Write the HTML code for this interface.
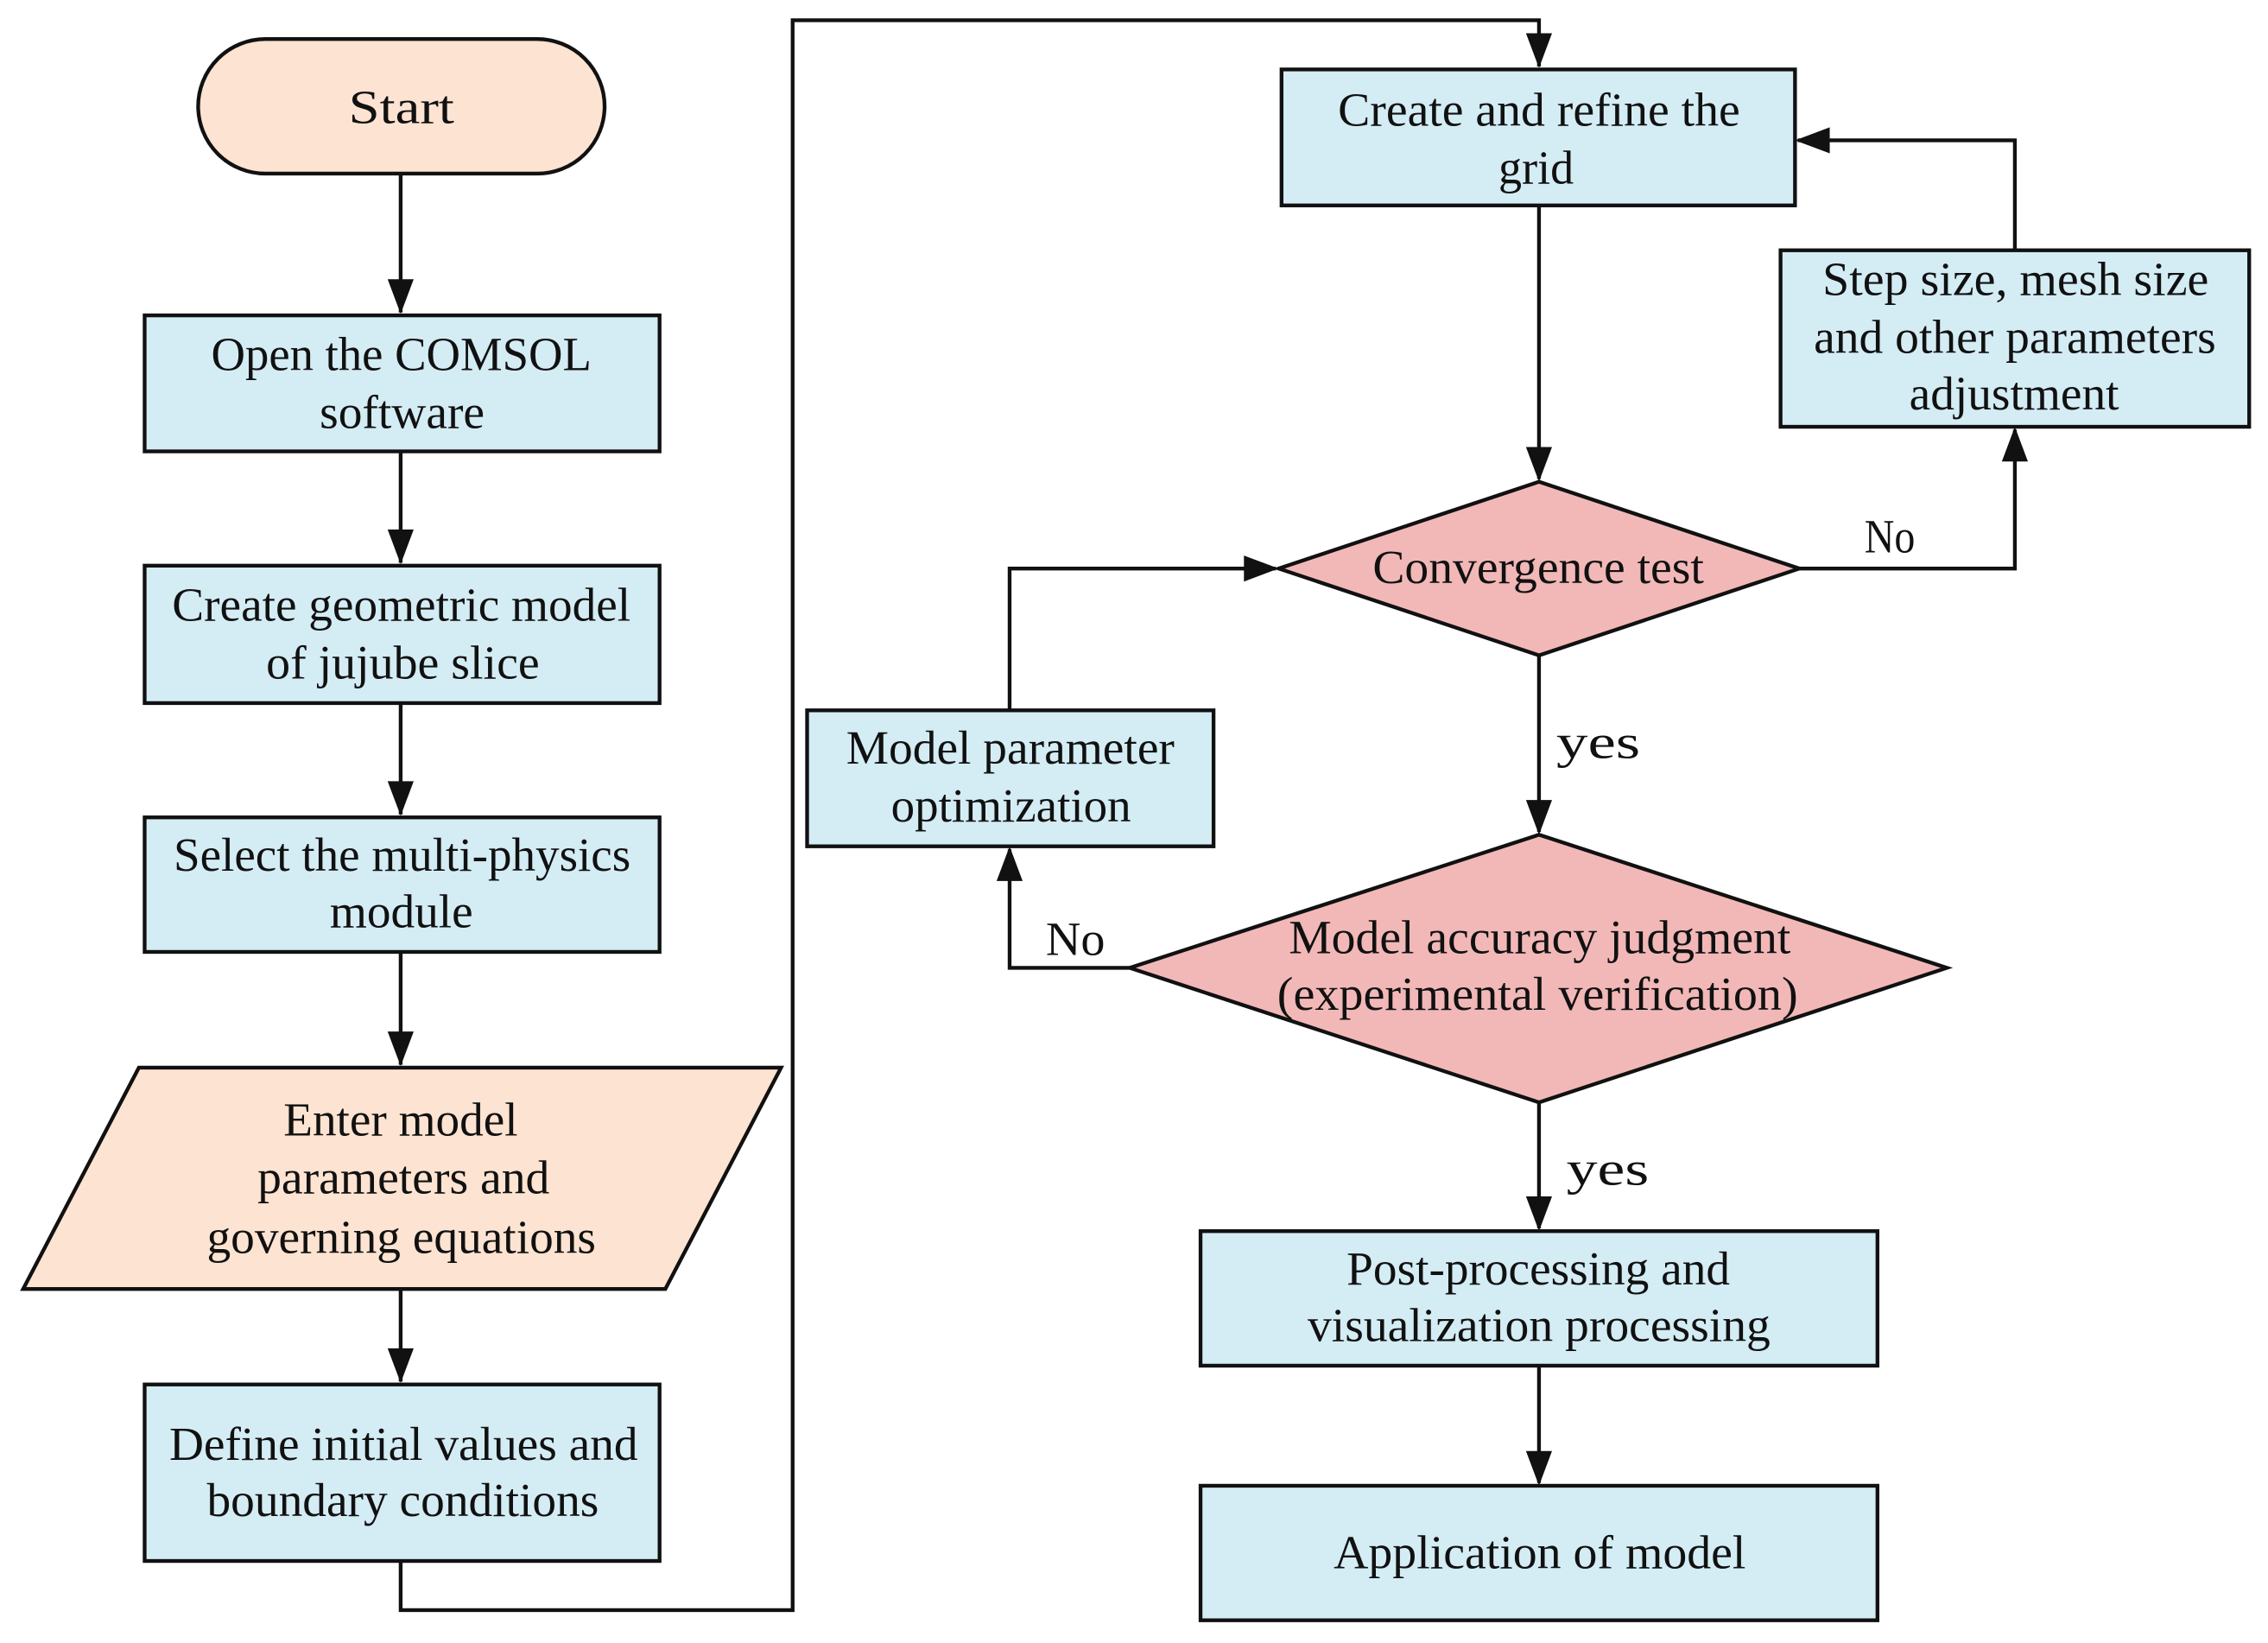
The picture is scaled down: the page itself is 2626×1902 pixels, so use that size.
<!DOCTYPE html>
<html><head><meta charset="utf-8"><style>
html,body{margin:0;padding:0;background:#fff;}
svg{display:block;}
text{font-family:"Liberation Serif",serif;font-size:33px;fill:#111;}
</style></head><body>
<svg width="2626" height="1902" viewBox="0 0 1568 1135.7" preserveAspectRatio="none" xmlns="http://www.w3.org/2000/svg">
<g stroke="#111" stroke-width="2.6" fill="none">
<line x1="277" y1="120" x2="277" y2="216"/>
<line x1="277" y1="312" x2="277" y2="389"/>
<line x1="277" y1="486" x2="277" y2="563"/>
<line x1="277" y1="658" x2="277" y2="736"/>
<line x1="277" y1="891" x2="277" y2="955"/>
<polyline points="277,1079 277,1113 548,1113 548,14 1064,14 1064,46"/>
<line x1="1064" y1="142" x2="1064" y2="331"/>
<polyline points="1244,393 1393,393 1393,297"/>
<polyline points="1393,173 1393,97 1243,97"/>
<polyline points="698,491 698,393 882,393"/>
<polyline points="781,669 698,669 698,587"/>
<line x1="1064" y1="453" x2="1064" y2="575"/>
<line x1="1064" y1="762" x2="1064" y2="849"/>
<line x1="1064" y1="944" x2="1064" y2="1025"/>
</g>
<g fill="#111">
<path d="M268,193 L286,193 L277,217 Z"/>
<path d="M268,366 L286,366 L277,390 Z"/>
<path d="M268,540 L286,540 L277,564 Z"/>
<path d="M268,713 L286,713 L277,737 Z"/>
<path d="M268,932 L286,932 L277,956 Z"/>
<path d="M1055,23 L1073,23 L1064,47 Z"/>
<path d="M1055,309 L1073,309 L1064,333 Z"/>
<path d="M1055,553 L1073,553 L1064,577 Z"/>
<path d="M1055,827 L1073,827 L1064,851 Z"/>
<path d="M1055,1003 L1073,1003 L1064,1027 Z"/>
<path d="M1384,319 L1402,319 L1393,295 Z"/>
<path d="M1265,88 L1265,106 L1241,97 Z"/>
<path d="M860,384 L860,402 L884,393 Z"/>
<path d="M689,609 L707,609 L698,585 Z"/>
</g>
<g stroke="#111" stroke-width="2.6">
<rect x="137" y="27" width="281" height="93" rx="46.5" fill="#fde3d1"/>
<rect x="100" y="218" width="356" height="94" fill="#d4ecf4"/>
<rect x="100" y="391" width="356" height="95" fill="#d4ecf4"/>
<rect x="100" y="565" width="356" height="93" fill="#d4ecf4"/>
<polygon points="96,738 540,738 460,891 16,891" fill="#fde3d1"/>
<rect x="100" y="957" width="356" height="122" fill="#d4ecf4"/>
<rect x="886" y="48" width="355" height="94" fill="#d4ecf4"/>
<rect x="1231" y="173" width="324" height="122" fill="#d4ecf4"/>
<polygon points="884,393 1064,333 1244,393 1064,453" fill="#f2b8b8"/>
<rect x="558" y="491" width="281" height="94" fill="#d4ecf4"/>
<polygon points="781,669 1064,577 1346,669 1064,762" fill="#f2b8b8"/>
<rect x="830" y="851" width="468" height="93" fill="#d4ecf4"/>
<rect x="830" y="1027" width="468" height="93" fill="#d4ecf4"/>
</g>
<g>
<text x="241" y="85" textLength="73" lengthAdjust="spacingAndGlyphs">Start</text>
<text x="146" y="256" textLength="263" lengthAdjust="spacingAndGlyphs">Open the COMSOL</text>
<text x="221" y="296" textLength="114" lengthAdjust="spacingAndGlyphs">software</text>
<text x="119" y="429" textLength="317" lengthAdjust="spacingAndGlyphs">Create geometric model</text>
<text x="184" y="469" textLength="189" lengthAdjust="spacingAndGlyphs">of jujube slice</text>
<text x="120" y="602" textLength="316" lengthAdjust="spacingAndGlyphs">Select the multi-physics</text>
<text x="228" y="641" textLength="99" lengthAdjust="spacingAndGlyphs">module</text>
<text x="196" y="785" textLength="162" lengthAdjust="spacingAndGlyphs">Enter model</text>
<text x="178" y="825" textLength="202" lengthAdjust="spacingAndGlyphs">parameters and</text>
<text x="143" y="866" textLength="269" lengthAdjust="spacingAndGlyphs">governing equations</text>
<text x="117" y="1009" textLength="324" lengthAdjust="spacingAndGlyphs">Define initial values and</text>
<text x="143" y="1048" textLength="271" lengthAdjust="spacingAndGlyphs">boundary conditions</text>
<text x="925" y="87" textLength="278" lengthAdjust="spacingAndGlyphs">Create and refine the</text>
<text x="1036" y="127" textLength="52" lengthAdjust="spacingAndGlyphs">grid</text>
<text x="1260" y="204" textLength="267" lengthAdjust="spacingAndGlyphs">Step size, mesh size</text>
<text x="1254" y="244" textLength="278" lengthAdjust="spacingAndGlyphs">and other parameters</text>
<text x="1320" y="283" textLength="145" lengthAdjust="spacingAndGlyphs">adjustment</text>
<text x="949" y="403" textLength="229" lengthAdjust="spacingAndGlyphs">Convergence test</text>
<text x="585" y="528" textLength="227" lengthAdjust="spacingAndGlyphs">Model parameter</text>
<text x="616" y="568" textLength="166" lengthAdjust="spacingAndGlyphs">optimization</text>
<text x="891" y="659" textLength="347" lengthAdjust="spacingAndGlyphs">Model accuracy judgment</text>
<text x="883" y="698" textLength="360" lengthAdjust="spacingAndGlyphs">(experimental verification)</text>
<text x="931" y="888" textLength="265" lengthAdjust="spacingAndGlyphs">Post-processing and</text>
<text x="904" y="927" textLength="320" lengthAdjust="spacingAndGlyphs">visualization processing</text>
<text x="922" y="1084" textLength="285" lengthAdjust="spacingAndGlyphs">Application of model</text>
<text x="1289" y="382" textLength="35" lengthAdjust="spacingAndGlyphs">No</text>
<text x="1076" y="524" textLength="58" lengthAdjust="spacingAndGlyphs">yes</text>
<text x="723" y="660" textLength="41" lengthAdjust="spacingAndGlyphs">No</text>
<text x="1083" y="819" textLength="57" lengthAdjust="spacingAndGlyphs">yes</text>
</g>
</svg>
</body></html>
